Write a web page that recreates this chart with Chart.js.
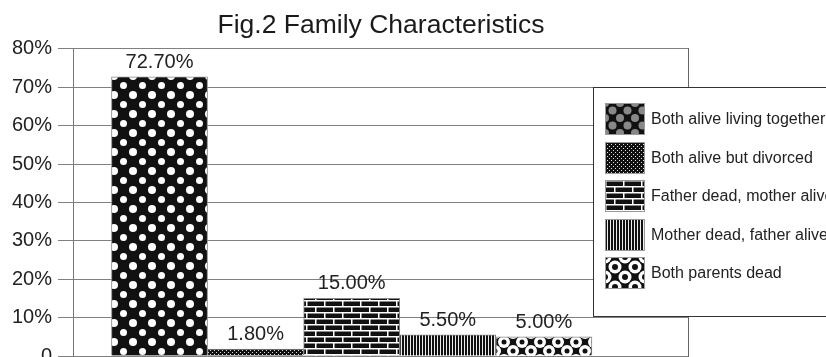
<!DOCTYPE html>
<html>
<head>
<meta charset="utf-8">
<script src="https://cdn.jsdelivr.net/npm/chart.js@4/dist/chart.umd.min.js"></script>
<style>
  html, body { margin: 0; padding: 0; overflow: hidden; background: #fff; }
  #wrap { position: relative; width: 826px; height: 374px; }
  #legend {
    position: absolute; left: 593px; top: 87px; width: 260px; height: 230px;
    background: #fff; border: 1.5px solid #333; box-sizing: border-box;
    font-family: "Liberation Sans", Arial, sans-serif; font-size: 16px; color: #222;
  }
  .item { position: absolute; left: 11px; height: 32px; display: flex; align-items: center; white-space: nowrap; }
  .item canvas { width: 40px; height: 32px; margin-right: 6px; }
</style>
</head>
<body>
<div id="wrap">
  <canvas id="myChart" width="826" height="374"></canvas>
  <div id="legend"></div>
</div>
<script>
'use strict';

/** @desc categories (one bar each) */
const CATEGORIES = [
  'Both alive living together',
  'Both alive but divorced',
  'Father dead, mother alive',
  'Mother dead, father alive',
  'Both parents dead'
];

/** @desc percentages */
const VALUES = [72.7, 1.8, 15.0, 5.5, 5.0];

/** @desc labels printed above the bars */
const VALUE_LABELS = ['72.70%', '1.80%', '15.00%', '5.50%', '5.00%'];

/** @desc y axis ticks */
const Y_TICKS = [0, 10, 20, 30, 40, 50, 60, 70, 80];

const FONT = '"Liberation Sans", Arial, sans-serif';

/** @desc small helper to paint a pattern tile */
function tile(w, h, draw) {
  const c = document.createElement('canvas');
  c.width = w;
  c.height = h;
  const g = c.getContext('2d');
  g.fillStyle = '#111';
  g.fillRect(0, 0, w, h);
  draw(g, w, h);
  return c;
}

function circle(g, x, y, r, color) {
  g.fillStyle = color;
  g.beginPath();
  g.arc(x, y, r, 0, Math.PI * 2);
  g.fill();
}

function dots(sp, r1, r2, color) {
  return tile(sp, sp, (g, w, h) => {
    [[0, 0], [w, 0], [0, h], [w, h]].forEach(p => circle(g, p[0], p[1], r1, color));
    circle(g, w / 2, h / 2, r2, color);
  });
}

function hatch() {
  return tile(4, 4, g => {
    g.fillStyle = '#ddd';
    g.fillRect(0, 0, 1, 1);
    g.fillRect(2, 2, 1, 1);
  });
}

function bricks() {
  return tile(18, 12, g => {
    g.fillStyle = '#fff';
    g.fillRect(0, 0, 18, 1.5);
    g.fillRect(0, 6, 18, 1.5);
    g.fillRect(0, 0, 1.5, 6);
    g.fillRect(9, 6, 1.5, 6);
  });
}

function stripes() {
  return tile(3, 1, g => {
    g.fillStyle = '#eee';
    g.fillRect(2, 0, 1, 1);
  });
}

function rings(sp, ro, ri) {
  return tile(sp, sp, (g, w, h) => {
    [[0, 0], [w, 0], [0, h], [w, h], [w / 2, h / 2]].forEach(p => {
      circle(g, p[0], p[1], ro, '#fff');
      circle(g, p[0], p[1], ri, '#111');
    });
  });
}

const CTX = document.getElementById('myChart').getContext('2d');

const BAR_TILES = [dots(19, 4, 3.5, '#fff'), hatch(), bricks(), stripes(), rings(18, 6, 2.5)];
const LEGEND_TILES = [dots(15, 4, 4, '#888'), hatch(), bricks(), stripes(), rings(20, 6.5, 3)];
const BAR_FILLS = BAR_TILES.map(t => CTX.createPattern(t, 'repeat'));

/** @desc html legend, the swatches use the same patterns */
const LEGEND = document.getElementById('legend');
CATEGORIES.forEach((name, i) => {
  const item = document.createElement('div');
  item.className = 'item';
  item.style.top = (15 + i * 38.5) + 'px';
  const sw = document.createElement('canvas');
  sw.width = 40;
  sw.height = 32;
  const g = sw.getContext('2d');
  g.fillStyle = g.createPattern(LEGEND_TILES[i], 'repeat');
  g.fillRect(0, 0, 40, 32);
  g.strokeStyle = '#999';
  g.strokeRect(0.5, 0.5, 39, 31);
  item.appendChild(sw);
  item.appendChild(document.createTextNode(name));
  LEGEND.appendChild(item);
});

/** @desc writes the value above every bar */
const VALUE_LABEL_PLUGIN = {
  id: 'valueLabels',
  afterDatasetsDraw(chart) {
    const ctx = chart.ctx;
    ctx.save();
    ctx.font = '20px ' + FONT;
    ctx.fillStyle = '#222';
    ctx.textAlign = 'center';
    ctx.textBaseline = 'alphabetic';
    chart.getDatasetMeta(0).data.forEach((bar, i) => {
      ctx.fillText(VALUE_LABELS[i], bar.x, bar.y - 9);
    });
    ctx.restore();
  }
};

const DATA = {
  datasets: [{
    label: 'Family',
    data: VALUES.map((v, i) => ({x: i, y: v})),
    backgroundColor: BAR_FILLS,
    borderColor: '#888',
    borderWidth: 1,
    barPercentage: 1,
    categoryPercentage: 1
  }]
};

const SCALES = {
  x: {
    type: 'linear',
    display: false,
    offset: false,
    min: -0.9,
    max: 5.5,
    afterBuildTicks: axis => { axis.ticks = CATEGORIES.map((c, i) => ({value: i})); }
  },
  y: {
    min: 0,
    max: 80,
    afterBuildTicks: axis => { axis.ticks = Y_TICKS.map(v => ({value: v})); },
    ticks: {
      padding: 6,
      color: '#222',
      font: {family: FONT, size: 20},
      callback: v => (v === 0 ? '0' : v + '%')
    },
    grid: {color: '#808080', lineWidth: 1, tickLength: 15},
    border: {color: '#777', width: 1}
  },
  yRight: {
    position: 'right',
    min: 0,
    max: 80,
    ticks: {display: false},
    grid: {display: false, drawTicks: false},
    border: {color: '#666', width: 1},
    afterFit: axis => { axis.width = 68; }
  }
};

const OPTIONS = {
  responsive: false,
  animation: false,
  layout: {padding: {left: 6, right: 70, top: 0, bottom: 15}},
  scales: SCALES,
  plugins: {
    legend: {display: false},
    tooltip: {enabled: false},
    title: {
      display: true,
      text: 'Fig.2 Family Characteristics',
      color: '#1a1a1a',
      font: {family: FONT, size: 26.5, weight: 'normal'},
      padding: {top: 10, bottom: 7}
    }
  }
};

new Chart(CTX, {type: 'bar', data: DATA, options: OPTIONS, plugins: [VALUE_LABEL_PLUGIN]});
</script>
</body>
</html>
